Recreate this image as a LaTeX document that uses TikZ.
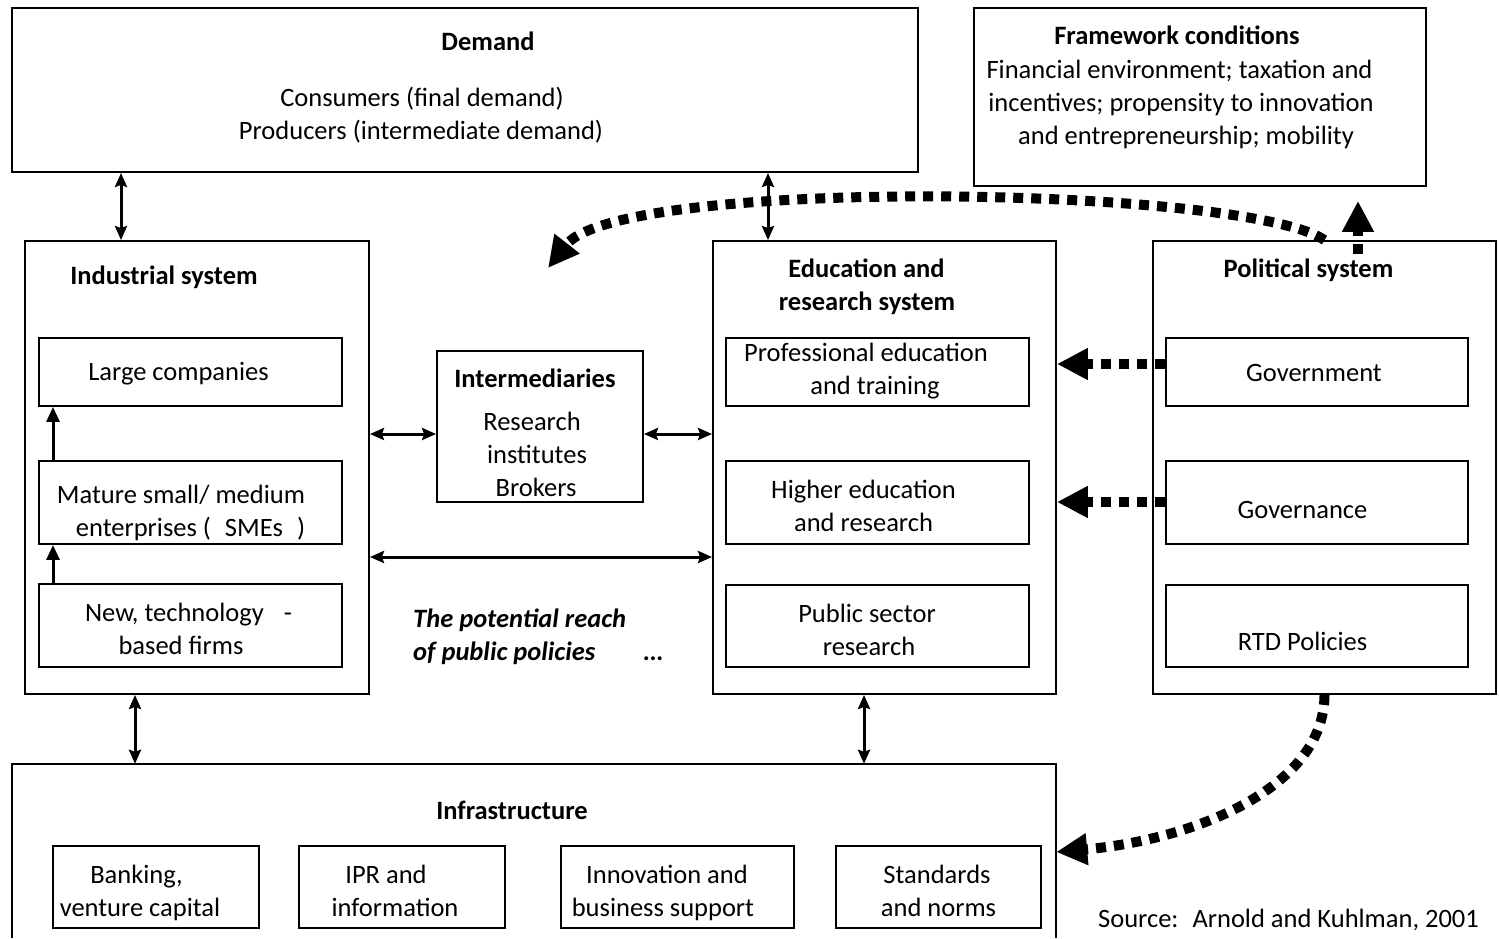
\documentclass[tikz,border=0pt]{standalone}
\usepackage{fontspec}
\setmainfont{Carlito}
\usetikzlibrary{arrows.meta,fit}
\begin{document}
\begin{tikzpicture}[x=1pt,y=-1pt,
  box/.style={draw, line width=1.9pt, inner sep=0pt},
  openbox/.style={inner sep=0pt},
  lbl/.style={anchor=base, inner sep=0pt, font=\fontsize{26.5}{33}\selectfont},
  head/.style={lbl, font=\fontsize{26.5}{33}\selectfont\bfseries},
  note/.style={anchor=base west, inner sep=0pt, font=\fontsize{26.5}{33}\selectfont\bfseries\itshape},
  link/.style={line width=3pt, {Stealth[length=14pt,width=12pt,inset=2pt]}-{Stealth[length=14pt,width=12pt,inset=2pt]}},
  growth/.style={line width=3pt, -{Triangle[length=15pt,width=13pt]}},
  policy/.style={line width=10pt, dash pattern=on 10pt off 8pt, -{Triangle[length=31pt,width=30pt]}}
]
\useasboundingbox (0,0) rectangle (1499,938);

% outer blocks
\node[box, fit={(12,8) (918,172)}] (demand) {};
\node[box, fit={(974,8) (1426,186)}] (frame) {};
\node[box, fit={(25,241) (369,694)}] (ind) {};
\node[box, fit={(713,241) (1056,694)}] (edu) {};
\node[box, fit={(1153,241) (1496,694)}] (pol) {};
\node[box, fit={(437,351) (643,502)}] (inter) {};
\node[openbox, fit={(12,764) (1056,938)}] (infra) {};
\draw[line width=1.9pt] (infra.south west) |- (infra.north east) -- (infra.south east);

% industrial system
\node[box, fit={(39,338) (342,406)}] (large) {};
\node[box, fit={(39,461) (342,544)}] (sme) {};
\node[box, fit={(39,584) (342,667)}] (newf) {};

% education and research system
\node[box, fit={(726,338) (1029,406)}] (prof) {};
\node[box, fit={(726,461) (1029,544)}] (higher) {};
\node[box, fit={(726,585) (1029,667)}] (pubr) {};

% political system
\node[box, fit={(1166,338) (1468,406)}] (gov) {};
\node[box, fit={(1166,461) (1468,544)}] (gove) {};
\node[box, fit={(1166,585) (1468,667)}] (rtd) {};

% infrastructure
\node[box, fit={(53,846) (259,928)}] (bank) {};
\node[box, fit={(299,846) (505,928)}] (ipr) {};
\node[box, fit={(561,846) (794,928)}] (innov) {};
\node[box, fit={(836,846) (1041,928)}] (stand) {};

% texts
\node[head] (tdem) at (488,50) {Demand};
\node[lbl] (tdem1) at (422,106) {Consumers (final demand)};
\node[lbl] (tdem2) at (421,139) {Producers (intermediate demand)};

\node[head] (tfr) at (1177,44) {Framework conditions};
\node[lbl] (tfr1) at (1179.5,78) {Financial environment; taxation and};
\node[lbl] (tfr2) at (1181,111) {incentives; propensity to innovation};
\node[lbl] (tfr3) at (1186,144) {and entrepreneurship; mobility};

\node[head] (tind) at (164,284) {Industrial system};
\node[lbl] (tlarge) at (178.5,380) {Large companies};
\node[lbl] (tsme1) at (181,503) {Mature small/ medium};
\node[lbl] (tsme2) at (190.5,536) {enterprises (\hspace{14pt}SMEs\hspace{14pt})};
\node[lbl] (tnew1) at (188.5,621) {New, technology\hspace{20pt}-};
\node[lbl] (tnew2) at (181,654) {based firms};

\node[head] (tint) at (535,387) {Intermediaries};
\node[lbl] (tint1) at (532,430) {Research};
\node[lbl] (tint2) at (537,463) {institutes};
\node[lbl] (tint3) at (536,496) {Brokers};

\node[head] (tedu1) at (866.5,277) {Education and};
\node[head] (tedu2) at (867,310) {research system};
\node[lbl] (tprof1) at (866,361) {Professional education};
\node[lbl] (tprof2) at (875,394) {and training};
\node[lbl] (thig1) at (863.5,498) {Higher education};
\node[lbl] (thig2) at (863.5,531) {and research};
\node[lbl] (tpub1) at (867,622) {Public sector};
\node[lbl] (tpub2) at (869,655) {research};

\node[head] (tpol) at (1308.5,277) {Political system};
\node[lbl] (tgov) at (1314,381) {Government};
\node[lbl] (tgove) at (1302.5,518) {Governance};
\node[lbl] (trtd) at (1302.5,650) {RTD Policies};

\node[head] (tinf) at (512,819) {Infrastructure};
\node[lbl] (tbank1) at (136.5,883) {Banking,};
\node[lbl] (tbank2) at (140,916) {venture capital};
\node[lbl] (tipr1) at (386,883) {IPR and};
\node[lbl] (tipr2) at (395,916) {information};
\node[lbl] (tinn1) at (667,883) {Innovation and};
\node[lbl] (tinn2) at (663,916) {business support};
\node[lbl] (tstd1) at (937,883) {Standards};
\node[lbl] (tstd2) at (938.5,916) {and norms};

\node[note] (reach1) at (413,627) {The potential reach};
\node[note] (reach2) at (413,660) {of public policies};
\node[note] (reach3) at (644,660) {…};

\node[lbl] (src) at (1288.5,927) {Source:\hspace{6pt} Arnold and Kuhlman, 2001};

% thin two-way links
\draw[link] (demand.south -| 121,0) -- (ind.north -| 121,0);
\draw[link] (demand.south -| 768,0) -- (edu.north -| 768,0);
\draw[link] (ind.east |- 0,434) -- (inter.west |- 0,434);
\draw[link] (inter.east |- 0,434) -- (edu.west |- 0,434);
\draw[link] (ind.east |- 0,557) -- (edu.west |- 0,557);
\draw[link] (ind.south -| 135,0) -- (infra.north -| 135,0);
\draw[link] (edu.south -| 864,0) -- (infra.north -| 864,0);

% firm growth
\draw[growth] (sme.north -| 53,0) -- (large.south -| 53,0);
\draw[growth] (newf.north -| 53,0) -- (sme.south -| 53,0);

% reach of public policies
\draw[policy] (gov.west |- 0,364) -- (edu.east |- 0,364);
\draw[policy] (gove.west |- 0,502) -- (edu.east |- 0,502);
\draw[policy] ([yshift=-14pt]pol.north -| 1358,0) -- ([yshift=-14pt]frame.south -| 1358,0);
\draw[policy] (pol.north) .. controls (1245,186) and (620,176) .. (548,268);
\draw[policy] (pol.south) .. controls (1324,790) and (1190,840) .. (infra.east |- 0,852);
\end{tikzpicture}
\end{document}
